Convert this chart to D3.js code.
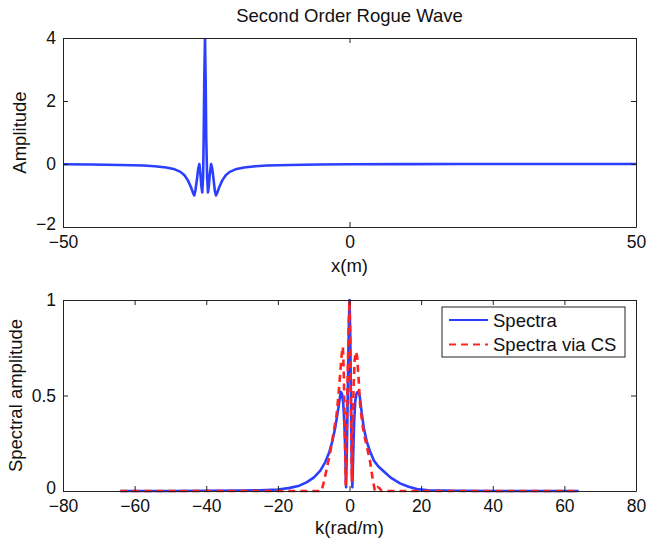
<!DOCTYPE html>
<html><head><meta charset="utf-8">
<script src="https://cdn.jsdelivr.net/npm/d3@7"></script>
<style>html,body{margin:0;padding:0;background:#fff;}svg{display:block;}</style>
</head><body>
<script>
// ---- data ----
const xTop = [-50,-45,-40,-36,-34,-32,-30.5,-29.5,-28.8,-28.2,-27.7,-27.3,-27.1,-26.9,-26.6,-26.4,-26.2,-26.0,-25.85,-25.7,-25.55,-25.45,-25.35,-25.22,-25.1,-25.0,-24.85,-24.7,-24.55,-24.4,-24.15,-23.95,-23.75,-23.5,-23.3,-23.1,-22.7,-22.2,-21.6,-20.9,-19.9,-18.4,-16.4,-14.4,-10.4,-5.4,0,10,20,30,40,50];
const ampTop = [-0.01,-0.015,-0.03,-0.05,-0.07,-0.11,-0.17,-0.25,-0.36,-0.52,-0.72,-0.92,-1.0,-0.85,-0.45,-0.15,0.0,-0.35,-0.7,-0.9,-0.4,0.8,2.6,4.0,2.6,0.8,-0.4,-0.9,-0.7,-0.35,0.0,-0.15,-0.45,-0.85,-1.0,-0.92,-0.72,-0.52,-0.36,-0.25,-0.17,-0.11,-0.07,-0.05,-0.03,-0.015,-0.01,-0.005,0,0,0,0];

const kBlue = [-64,-50,-40,-30,-25,-20,-17,-14,-12,-10,-8.2,-6.8,-5.7,-4.8,-4.0,-3.4,-2.9,-2.45,-2.1,-1.75,-1.45,-1.2,-0.95,-0.7,-0.45,-0.2,0,0.2,0.4,0.6,0.8,1.05,1.3,1.6,1.95,2.3,2.57,2.9,3.4,4.0,4.8,5.7,6.8,8.0,9.45,11.5,14.1,16.5,18.8,22,26,30,40,50,64];
const specBlue = [0,0,0.001,0.002,0.004,0.008,0.015,0.028,0.045,0.07,0.105,0.15,0.2,0.26,0.33,0.4,0.46,0.52,0.51,0.46,0.36,0.22,0.02,0.25,0.55,0.85,1.0,0.82,0.5,0.18,0.02,0.2,0.36,0.47,0.51,0.52,0.52,0.49,0.41,0.33,0.26,0.21,0.16,0.13,0.105,0.07,0.04,0.022,0.01,0.004,0.002,0.001,0,0,0];

const kRed = [-64,-50,-40,-30,-20,-12,-9,-7.8,-7.0,-6.2,-5.4,-4.5,-3.6,-3.0,-2.5,-2.1,-1.85,-1.6,-1.3,-1.05,-0.8,-0.5,-0.25,0,0.2,0.4,0.65,0.9,1.15,1.45,1.85,2.15,2.5,2.94,3.4,3.85,4.5,5.7,6.5,7.1,7.5,7.9,8.4,8.9,10,12,20,30,40,50,64];
const specRed = [0,0,0,0,0,0,0,0,0.06,0.13,0.2,0.3,0.4,0.52,0.64,0.73,0.755,0.62,0.32,0.03,0.3,0.6,0.85,1.0,0.8,0.45,0.05,0.3,0.55,0.69,0.73,0.7,0.6,0.46,0.38,0.32,0.26,0.16,0.06,0,0.005,0.02,0.015,0,0,0,0,0,0,0,0];

const topXTicks = [-50,0,50];
const topYTicks = [-2,0,2,4];
const botXTicks = [-80,-60,-40,-20,0,20,40,60,80];
const botYTicks = [0,0.5,1];
const legendLabels = ["Spectra","Spectra via CS"];

// ---- drawing ----
const W = 649, H = 541;
const FONT = "'Liberation Sans', Arial, Helvetica, sans-serif";
const FS = 18.5;
const TFS = 17.5;
const BLUE = "#2a3fff", RED = "#ff2222", AX = "#222";

const svg = d3.select("body").append("svg").attr("width", W).attr("height", H)
  .style("font-family", FONT);

const fmt = d => String(d).replace("-", "\u2212");

function drawAxes(g, x, y, xt, yt) {
  const [x0, x1] = x.range(), [y0, y1] = y.range();
  const styleAxis = sel => {
    sel.selectAll("path").attr("stroke", AX).attr("stroke-width", 1);
    sel.selectAll("line").attr("stroke", AX).attr("stroke-width", 1);
    sel.selectAll("text").attr("fill", "#111").style("font-size", TFS + "px").style("font-family", FONT);
  };
  g.append("g").attr("transform", `translate(0,${y0})`)
    .call(d3.axisBottom(x).tickValues(xt).tickFormat(fmt).tickSizeInner(-5).tickSizeOuter(0).tickPadding(9))
    .call(styleAxis);
  g.append("g").attr("transform", `translate(0,${y1})`)
    .call(d3.axisTop(x).tickValues(xt).tickFormat("").tickSizeInner(-5).tickSizeOuter(0))
    .call(styleAxis);
  g.append("g").attr("transform", `translate(${x0},0)`)
    .call(d3.axisLeft(y).tickValues(yt).tickFormat(fmt).tickSizeInner(-5).tickSizeOuter(0).tickPadding(7))
    .call(styleAxis);
  g.append("g").attr("transform", `translate(${x1},0)`)
    .call(d3.axisRight(y).tickValues(yt).tickFormat("").tickSizeInner(-5).tickSizeOuter(0))
    .call(styleAxis);
  // nudge the lowest y tick label up slightly, as in the reference
  g.selectAll("g.tick text").filter(function(d){ return d === yt[0] && this.getAttribute("x") && +this.getAttribute("x") < 0; })
    .attr("dy", "0.15em");
}

// top panel
const xA = d3.scaleLinear().domain([-50, 50]).range([63, 636]);
const yA = d3.scaleLinear().domain([-2, 4]).range([227, 38]);
const gTop = svg.append("g");
svg.append("clipPath").attr("id", "clipTop").append("rect")
  .attr("x", 63).attr("y", 38).attr("width", 573).attr("height", 189);
gTop.append("path")
  .datum(xTop.map((v, i) => [v, ampTop[i]]))
  .attr("clip-path", "url(#clipTop)")
  .attr("fill", "none").attr("stroke", BLUE).attr("stroke-width", 2.6).attr("stroke-linejoin", "round")
  .attr("d", d3.line().x(d => xA(d[0])).y(d => yA(d[1])));
drawAxes(gTop, xA, yA, topXTicks, topYTicks);
svg.append("text").attr("x", 349.5).attr("y", 22).attr("text-anchor", "middle")
  .style("font-size", FS + "px").attr("fill", "#111").text("Second Order Rogue Wave");
svg.append("text").attr("x", 349.5).attr("y", 272).attr("text-anchor", "middle")
  .style("font-size", FS + "px").attr("fill", "#111").text("x(m)");
svg.append("text").attr("transform", "translate(26,132.5) rotate(-90)").attr("text-anchor", "middle")
  .style("font-size", FS + "px").attr("fill", "#111").text("Amplitude");

// bottom panel
const xB = d3.scaleLinear().domain([-80, 80]).range([63, 636]);
const yB = d3.scaleLinear().domain([0, 1]).range([491, 300]);
const gBot = svg.append("g");
const ln = d3.line().x(d => xB(d[0])).y(d => yB(d[1]));
gBot.append("path")
  .datum(kBlue.map((v, i) => [v, specBlue[i]]))
  .attr("fill", "none").attr("stroke", BLUE).attr("stroke-width", 2.6).attr("stroke-linejoin", "round")
  .attr("d", ln);
gBot.append("path")
  .datum(kRed.map((v, i) => [v, specRed[i]]))
  .attr("fill", "none").attr("stroke", RED).attr("stroke-width", 2.6).attr("stroke-dasharray", "7,5")
  .attr("d", ln);
drawAxes(gBot, xB, yB, botXTicks, botYTicks);
svg.append("text").attr("x", 349.5).attr("y", 534).attr("text-anchor", "middle")
  .style("font-size", FS + "px").attr("fill", "#111").text("k(rad/m)");
svg.append("text").attr("transform", "translate(22,395.5) rotate(-90)").attr("text-anchor", "middle")
  .style("font-size", FS + "px").attr("fill", "#111").text("Spectral amplitude");

// legend
const lg = svg.append("g");
lg.append("rect").attr("x", 442).attr("y", 307).attr("width", 183).attr("height", 50)
  .attr("fill", "#fff").attr("stroke", AX).attr("stroke-width", 1);
const lgColors = [BLUE, RED], lgDash = [null, "7,5"];
legendLabels.forEach((t, i) => {
  const yy = 320 + i * 24.5;
  lg.append("line").attr("x1", 449).attr("x2", 488).attr("y1", yy).attr("y2", yy)
    .attr("stroke", lgColors[i]).attr("stroke-width", 2).attr("stroke-dasharray", lgDash[i]);
  lg.append("text").attr("x", 493).attr("y", yy + 6.5).style("font-size", FS + "px")
    .attr("fill", "#111").text(t);
});
</script>
</body></html>
